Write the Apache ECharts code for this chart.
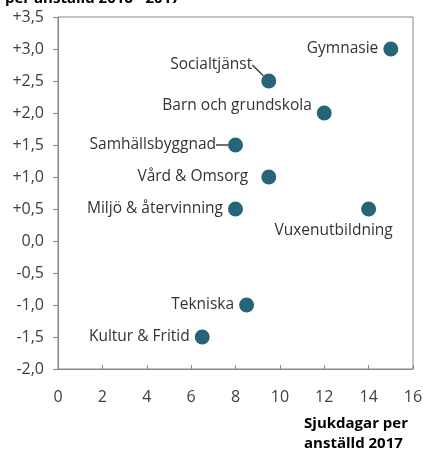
<!DOCTYPE html>
<html>
<head>
<meta charset="utf-8">
<title>Sjukdagar</title>
<script src="https://cdn.jsdelivr.net/npm/echarts@6/dist/echarts.min.js"></script>
<style>
  html, body { margin: 0; padding: 0; background: #fff; }
  #main { width: 423px; height: 451px; }
</style>
</head>
<body>
<div id="main"></div>
<script>
// verksamheter, sjukdagar 2017 (x) och förändring 2016-2017 (y)
var names = ['Gymnasie', 'Socialtjänst', 'Barn och grundskola', 'Samhällsbyggnad', 'Vård & Omsorg',
             'Miljö & återvinning', 'Vuxenutbildning', 'Tekniska', 'Kultur & Fritid'];
var sjukdagar = [15, 9.5, 12, 8, 9.5, 8, 14, 8.5, 6.5];
var forandring = [3.0, 2.5, 2.0, 1.5, 1.0, 0.5, 0.5, -1.0, -1.5];

// etikettplacering (dx, dy från standardläget)
var etikett = {
    'Gymnasie':            {pos: 'left', dx: 0, dy: 0},
    'Socialtjänst':        {pos: 'left', dx: -4, dy: -16, line: true},
    'Barn och grundskola': {pos: 'left', dx: 0, dy: -7},
    'Samhällsbyggnad':     {pos: 'left', dx: -7, dy: 0, line: true},
    'Vård & Omsorg':       {pos: 'left', dx: -8, dy: 0},
    'Miljö & återvinning': {pos: 'left', dx: 0, dy: 0},
    'Vuxenutbildning':     {pos: 'bottom', dx: -35, dy: 1},
    'Tekniska':            {pos: 'left', dx: 0, dy: 0},
    'Kultur & Fritid':     {pos: 'left', dx: 0, dy: 0}
};

var font = '"Open Sans", "Noto Sans", sans-serif';

var punkter = [];
for (var i = 0; i < names.length; i++) {
    var e = etikett[names[i]];
    punkter.push({
        name: names[i],
        value: [sjukdagar[i], forandring[i]],
        label: {position: e.pos},
        labelLine: {show: !!e.line}
    });
}

var myChart = echarts.init(document.getElementById('main'));
var option = {
    animation: false,
    title: [{
        text: 'per anställd 2016 - 2017',
        left: 0, top: -14,
        textStyle: {fontFamily: font, fontSize: 15, fontWeight: 'bold', color: '#000'}
    }, {
        // x-axelns rubrik
        text: 'Sjukdagar per\nanställd 2017',
        right: 15, top: 414, padding: 0,
        textStyle: {fontFamily: font, fontSize: 15, fontWeight: 'bold', color: '#000', lineHeight: 20}
    }],
    grid: {
        left: 58, right: 10, top: 17, bottom: 82,
        containLabel: false, outerBoundsMode: 'none',
        show: true, borderColor: '#868686', borderWidth: 1
    },
    xAxis: {
        type: 'value', min: 0, max: 16, interval: 2,
        splitLine: {show: false},
        axisLine: {onZero: false, lineStyle: {color: '#868686'}},
        axisTick: {inside: true, length: 4, lineStyle: {color: '#868686'}},
        axisLabel: {fontFamily: font, fontSize: 16, color: '#404040', margin: 20}
    },
    yAxis: {
        type: 'value', min: -2, max: 3.5, interval: 0.5,
        splitLine: {show: false},
        axisLine: {show: true, onZero: false, lineStyle: {color: '#868686'}},
        axisTick: {show: true, length: 5, lineStyle: {color: '#868686'}},
        axisLabel: {
            fontFamily: font, fontSize: 16, color: '#404040', margin: 14,
            formatter: function (v) {
                var s = Math.abs(v).toFixed(1).replace('.', ',');
                return v > 0 ? '+' + s : (v < 0 ? '-' + s : s);
            }
        }
    },
    series: [{
        type: 'scatter',
        symbolSize: 15,
        itemStyle: {color: '#266478', opacity: 1},
        data: punkter,
        label: {
            show: true,
            formatter: '{b}',
            distance: 5,
            fontFamily: font, fontSize: 15.5, color: '#333'
        },
        labelLine: {lineStyle: {color: '#404040', width: 1.5}, length2: 0},
        labelLayout: function (p) {
            var e = etikett[names[p.dataIndex]];
            return {dx: e.dx, dy: e.dy};
        }
    }]
};
myChart.setOption(option);
</script>
</body>
</html>
